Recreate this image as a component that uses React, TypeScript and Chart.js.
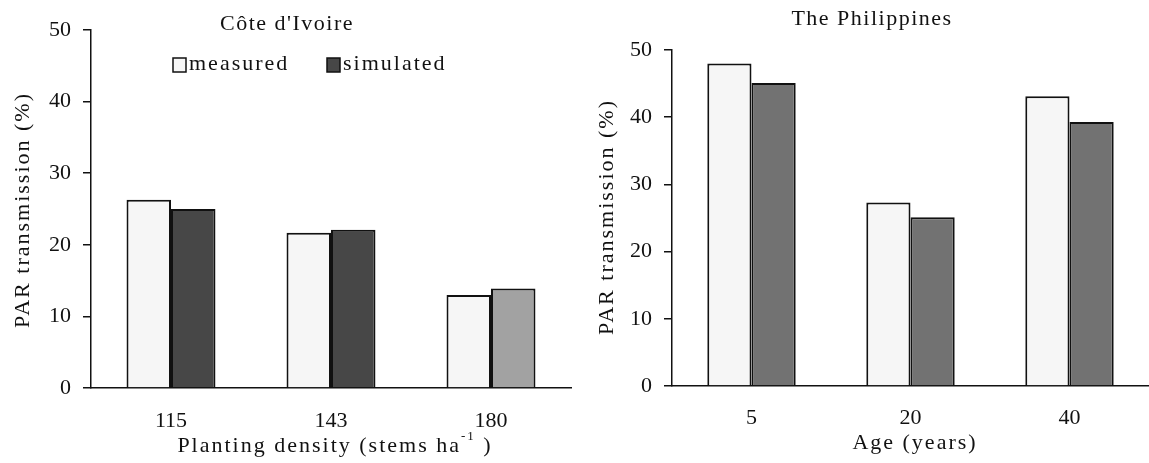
import React, { useEffect, useRef } from "react";
import { Chart, registerables } from "chart.js";

Chart.register(...registerables);

// ---- data ----
const ciCategories = ["115", "143", "180"];
const ciMeasured = [26.3, 21.7, 13.0];
const ciSimulated = [25.0, 22.1, 13.9];

const phCategories = ["5", "20", "40"];
const phMeasured = [48.0, 27.3, 43.1];
const phSimulated = [45.1, 25.1, 39.3];

const seriesLabels = ["measured", "simulated"];
const yMin = 0;
const yMax = 50;
const yStep = 10;

const FONT = '"Liberation Serif", "Times New Roman", serif';
const INK = "#111111";

type Seg = { t: string; sup?: boolean };
type TextItem = {
  segs: Seg[];
  x: number;
  y: number;
  rotate?: boolean;
  size?: number;
  spacing?: number;
};
type LegendSpec = {
  boxes: { x: number; y: number; tx: number }[];
  size: number;
  boxW: number;
  boxH: number;
};

function makeTextPlugin(items: TextItem[], legend?: LegendSpec) {
  return {
    id: "paperText",
    afterDraw(chart: any) {
      const ctx: CanvasRenderingContext2D = chart.ctx;
      ctx.save();
      ctx.fillStyle = INK;
      ctx.textBaseline = "middle";
      for (const it of items) {
        const size = it.size ?? 22;
        const sp = it.spacing ?? 2;
        (ctx as any).letterSpacing = sp + "px";
        const fonts = it.segs.map((s) =>
          s.sup ? `${Math.round(size * 0.6)}px ${FONT}` : `${size}px ${FONT}`
        );
        let total = 0;
        const widths = it.segs.map((s, i) => {
          ctx.font = fonts[i];
          const w = ctx.measureText(s.t).width;
          total += w;
          return w;
        });
        ctx.save();
        ctx.translate(it.x, it.y);
        if (it.rotate) ctx.rotate(-Math.PI / 2);
        let cx = -total / 2;
        ctx.textAlign = "left";
        it.segs.forEach((s, i) => {
          ctx.font = fonts[i];
          ctx.fillText(s.t, cx, s.sup ? -size * 0.42 : 0);
          cx += widths[i];
        });
        ctx.restore();
      }
      if (legend) {
        (ctx as any).letterSpacing = "2px";
        ctx.font = `${legend.size}px ${FONT}`;
        ctx.textAlign = "left";
        chart.data.datasets.forEach((ds: any, i: number) => {
          const b = legend.boxes[i];
          if (!b) return;
          const bg = Array.isArray(ds.backgroundColor)
            ? ds.backgroundColor[0]
            : ds.backgroundColor;
          ctx.fillStyle = bg;
          ctx.fillRect(b.x, b.y, legend.boxW, legend.boxH);
          ctx.strokeStyle = INK;
          ctx.lineWidth = 1.5;
          ctx.strokeRect(b.x, b.y, legend.boxW, legend.boxH);
          ctx.fillStyle = INK;
          ctx.fillText(ds.label, b.tx, b.y + legend.boxH / 2 - 1);
        });
      }
      ctx.restore();
    },
  };
}

type Params = {
  categories: string[];
  measured: number[];
  simulated: number[];
  simColors: string[];
  yWidth: number;
  xHeight: number;
  padTop: number;
  padRight: number;
  xTickPad: number;
  items: TextItem[];
  legend?: LegendSpec;
};

function makeConfig(p: Params): any {
  return {
    type: "bar",
    data: {
      labels: p.categories,
      datasets: [
        {
          label: seriesLabels[0],
          data: p.measured,
          backgroundColor: "#f6f6f6",
          borderColor: INK,
          borderWidth: 2,
          categoryPercentage: 0.556,
          barPercentage: 1,
        },
        {
          label: seriesLabels[1],
          data: p.simulated,
          backgroundColor: p.simColors,
          borderColor: INK,
          borderWidth: 2,
          categoryPercentage: 0.556,
          barPercentage: 1,
        },
      ],
    },
    options: {
      responsive: false,
      animation: false,
      devicePixelRatio: 1,
      layout: { padding: { top: p.padTop, right: p.padRight, left: 0, bottom: 0 } },
      plugins: {
        legend: { display: false },
        title: { display: false },
        tooltip: { enabled: false },
      },
      scales: {
        x: {
          type: "category",
          offset: true,
          grid: { display: false },
          border: { display: true, color: INK, width: 1.5 },
          ticks: {
            color: INK,
            padding: p.xTickPad,
            font: { family: FONT, size: 22 },
          },
          afterFit: (s: any) => {
            s.height = p.xHeight;
          },
        },
        y: {
          min: yMin,
          max: yMax,
          grid: {
            display: true,
            drawOnChartArea: false,
            drawTicks: true,
            tickLength: 8,
            color: INK,
            lineWidth: 1.5,
          },
          border: { display: true, color: INK, width: 1.5 },
          ticks: {
            stepSize: yStep,
            color: INK,
            padding: 12,
            font: { family: FONT, size: 22 },
          },
          afterFit: (s: any) => {
            s.width = p.yWidth;
          },
        },
      },
    },
    plugins: [makeTextPlugin(p.items, p.legend)],
  };
}

const yTitle: Seg[] = [{ t: "PAR transmission (%)" }];

const leftParams: Params = {
  categories: ciCategories,
  measured: ciMeasured,
  simulated: ciSimulated,
  simColors: ["#474747", "#474747", "#a2a2a2"],
  yWidth: 91,
  xHeight: 75,
  padTop: 30,
  padRight: 4,
  xTickPad: 12,
  items: [
    { segs: [{ t: "Côte d'Ivoire" }], x: 287, y: 24, spacing: 1.5 },
    { segs: yTitle, x: 23, y: 210, rotate: true },
    {
      segs: [{ t: "Planting density (stems ha" }, { t: "-1", sup: true }, { t: " )" }],
      x: 335,
      y: 446,
    },
  ],
  legend: {
    boxes: [
      { x: 173, y: 58, tx: 189 },
      { x: 327, y: 58, tx: 343 },
    ],
    size: 22,
    boxW: 13,
    boxH: 14,
  },
};

const rightParams: Params = {
  categories: phCategories,
  measured: phMeasured,
  simulated: phSimulated,
  simColors: ["#727272", "#727272", "#727272"],
  yWidth: 97,
  xHeight: 77,
  padTop: 50,
  padRight: 0,
  xTickPad: 11,
  items: [
    { segs: [{ t: "The Philippines" }], x: 297, y: 19, spacing: 1.5 },
    { segs: yTitle, x: 32, y: 217, rotate: true },
    { segs: [{ t: "Age (years)" }], x: 340, y: 443 },
  ],
};

function BarPanel({ params, left, width }: { params: Params; left: number; width: number }) {
  const ref = useRef<HTMLCanvasElement | null>(null);
  useEffect(() => {
    if (!ref.current) return;
    const chart = new Chart(ref.current, makeConfig(params));
    return () => chart.destroy();
  }, [params]);
  return (
    <canvas
      ref={ref}
      width={width}
      height={463}
      style={{ position: "absolute", left, top: 0, width, height: 463 }}
    />
  );
}

export default function App() {
  useEffect(() => {
    document.body.style.margin = "0";
    document.body.style.background = "#ffffff";
  }, []);
  return (
    <div style={{ position: "relative", width: 1149, height: 463, background: "#fff", overflow: "hidden" }}>
      <BarPanel params={leftParams} left={0} width={575} />
      <BarPanel params={rightParams} left={575} width={574} />
    </div>
  );
}
